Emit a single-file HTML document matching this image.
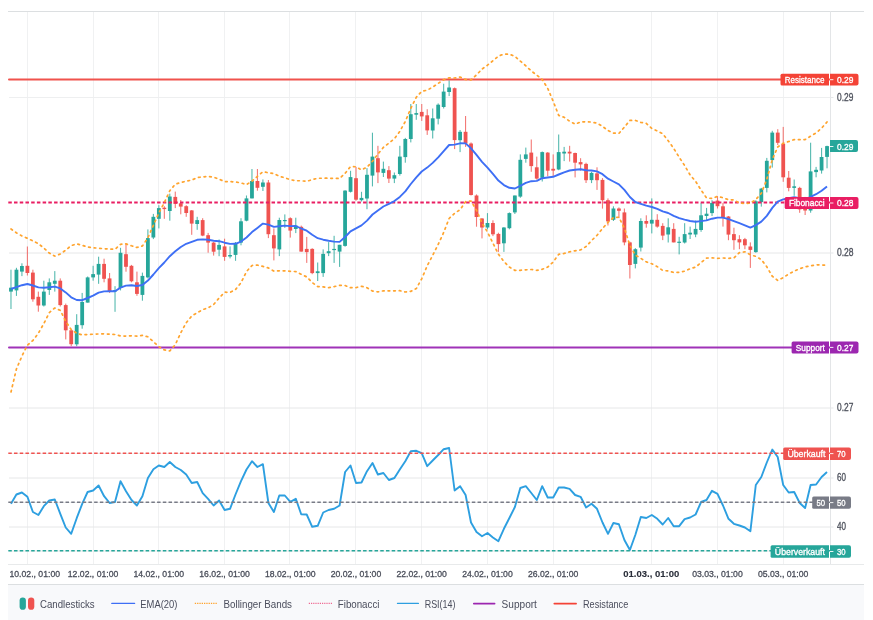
<!DOCTYPE html>
<html><head><meta charset="utf-8"><style>
html,body{margin:0;padding:0;background:#fff;width:873px;height:620px;overflow:hidden;position:relative;font-family:"Liberation Sans",sans-serif}
</style></head><body>
<svg width="873" height="620" viewBox="0 0 873 620" style="position:absolute;left:0;top:0;will-change:transform">
<rect x="8" y="585" width="856" height="35" fill="#f8f9fb"/>
<line x1="27.5" y1="11" x2="27.5" y2="564" stroke="#f0f1f2" stroke-width="1"/>
<line x1="93.5" y1="11" x2="93.5" y2="564" stroke="#f0f1f2" stroke-width="1"/>
<line x1="158.5" y1="11" x2="158.5" y2="564" stroke="#f0f1f2" stroke-width="1"/>
<line x1="224.5" y1="11" x2="224.5" y2="564" stroke="#f0f1f2" stroke-width="1"/>
<line x1="289.5" y1="11" x2="289.5" y2="564" stroke="#f0f1f2" stroke-width="1"/>
<line x1="355.5" y1="11" x2="355.5" y2="564" stroke="#f0f1f2" stroke-width="1"/>
<line x1="421.5" y1="11" x2="421.5" y2="564" stroke="#f0f1f2" stroke-width="1"/>
<line x1="487.5" y1="11" x2="487.5" y2="564" stroke="#f0f1f2" stroke-width="1"/>
<line x1="553.5" y1="11" x2="553.5" y2="564" stroke="#f0f1f2" stroke-width="1"/>
<line x1="651.5" y1="11" x2="651.5" y2="564" stroke="#f0f1f2" stroke-width="1"/>
<line x1="717.5" y1="11" x2="717.5" y2="564" stroke="#f0f1f2" stroke-width="1"/>
<line x1="783.5" y1="11" x2="783.5" y2="564" stroke="#f0f1f2" stroke-width="1"/>
<line x1="9" y1="97.5" x2="830" y2="97.5" stroke="#eeeff0" stroke-width="1"/>
<line x1="9" y1="253.0" x2="830" y2="253.0" stroke="#e6e7e8" stroke-width="1"/>
<line x1="9" y1="408.0" x2="830" y2="408.0" stroke="#e6e7e8" stroke-width="1"/>
<line x1="9" y1="453.5" x2="830" y2="453.5" stroke="#eeeff0" stroke-width="1"/>
<line x1="9" y1="478.0" x2="830" y2="478.0" stroke="#e6e7e8" stroke-width="1"/>
<line x1="9" y1="502.5" x2="830" y2="502.5" stroke="#eeeff0" stroke-width="1"/>
<line x1="9" y1="527.0" x2="830" y2="527.0" stroke="#e6e7e8" stroke-width="1"/>
<line x1="9" y1="551.0" x2="830" y2="551.0" stroke="#e6e7e8" stroke-width="1"/>
<line x1="8" y1="11.5" x2="864" y2="11.5" stroke="#dcdfe1" stroke-width="1"/>
<line x1="830.5" y1="11" x2="830.5" y2="564" stroke="#e3e5e7" stroke-width="1"/>
<line x1="8" y1="564.5" x2="864" y2="564.5" stroke="#e8eaeb" stroke-width="1"/>
<line x1="8" y1="584.5" x2="864" y2="584.5" stroke="#dcdfe1" stroke-width="1"/>
<defs><clipPath id="pane"><rect x="8" y="12" width="822" height="552"/></clipPath></defs>
<g clip-path="url(#pane)">
<rect x="10.42" y="269.7" width="1.1" height="39.3" fill="#26a69a" opacity="0.78"/>
<rect x="9.07" y="287.7" width="3.8" height="3.9" fill="#26a69a"/>
<rect x="15.90" y="267.8" width="1.1" height="28.1" fill="#26a69a" opacity="0.78"/>
<rect x="14.55" y="269.7" width="3.8" height="20.7" fill="#26a69a"/>
<rect x="21.37" y="263.3" width="1.1" height="12.8" fill="#26a69a" opacity="0.78"/>
<rect x="20.02" y="266.0" width="3.8" height="5.6" fill="#26a69a"/>
<rect x="26.85" y="246.5" width="1.1" height="29.0" fill="#ef5350" opacity="0.78"/>
<rect x="25.50" y="265.8" width="3.8" height="7.2" fill="#ef5350"/>
<rect x="32.33" y="269.7" width="1.1" height="32.0" fill="#ef5350" opacity="0.78"/>
<rect x="30.98" y="272.6" width="3.8" height="26.7" fill="#ef5350"/>
<rect x="37.80" y="291.6" width="1.1" height="20.1" fill="#ef5350" opacity="0.78"/>
<rect x="36.45" y="296.8" width="3.8" height="8.7" fill="#ef5350"/>
<rect x="43.28" y="280.7" width="1.1" height="25.8" fill="#26a69a" opacity="0.78"/>
<rect x="41.93" y="291.6" width="3.8" height="13.9" fill="#26a69a"/>
<rect x="48.76" y="278.4" width="1.1" height="16.5" fill="#26a69a" opacity="0.78"/>
<rect x="47.41" y="282.3" width="3.8" height="7.7" fill="#26a69a"/>
<rect x="54.23" y="271.1" width="1.1" height="20.5" fill="#26a69a" opacity="0.78"/>
<rect x="52.88" y="280.7" width="3.8" height="3.1" fill="#26a69a"/>
<rect x="59.71" y="278.4" width="1.1" height="28.1" fill="#ef5350" opacity="0.78"/>
<rect x="58.36" y="280.7" width="3.8" height="24.4" fill="#ef5350"/>
<rect x="65.19" y="303.6" width="1.1" height="35.8" fill="#ef5350" opacity="0.78"/>
<rect x="63.84" y="305.1" width="3.8" height="25.2" fill="#ef5350"/>
<rect x="70.67" y="329.7" width="1.1" height="16.5" fill="#ef5350" opacity="0.78"/>
<rect x="69.32" y="330.3" width="3.8" height="13.9" fill="#ef5350"/>
<rect x="76.14" y="314.2" width="1.1" height="32.0" fill="#26a69a" opacity="0.78"/>
<rect x="74.79" y="324.9" width="3.8" height="19.4" fill="#26a69a"/>
<rect x="81.62" y="292.9" width="1.1" height="35.8" fill="#26a69a" opacity="0.78"/>
<rect x="80.27" y="302.0" width="3.8" height="23.2" fill="#26a69a"/>
<rect x="87.10" y="276.5" width="1.1" height="26.1" fill="#26a69a" opacity="0.78"/>
<rect x="85.75" y="277.4" width="3.8" height="25.2" fill="#26a69a"/>
<rect x="92.57" y="265.8" width="1.1" height="14.9" fill="#26a69a" opacity="0.78"/>
<rect x="91.22" y="274.1" width="3.8" height="3.3" fill="#26a69a"/>
<rect x="98.05" y="256.7" width="1.1" height="27.1" fill="#26a69a" opacity="0.78"/>
<rect x="96.70" y="263.9" width="3.8" height="10.7" fill="#26a69a"/>
<rect x="103.53" y="258.7" width="1.1" height="23.6" fill="#ef5350" opacity="0.78"/>
<rect x="102.18" y="263.9" width="3.8" height="14.9" fill="#ef5350"/>
<rect x="109.01" y="273.0" width="1.1" height="19.9" fill="#ef5350" opacity="0.78"/>
<rect x="107.66" y="278.4" width="3.8" height="12.6" fill="#ef5350"/>
<rect x="114.48" y="286.2" width="1.1" height="25.6" fill="#26a69a" opacity="0.78"/>
<rect x="113.13" y="290.0" width="3.8" height="1.5" fill="#26a69a"/>
<rect x="119.96" y="247.8" width="1.1" height="42.6" fill="#26a69a" opacity="0.78"/>
<rect x="118.61" y="252.8" width="3.8" height="35.2" fill="#26a69a"/>
<rect x="125.44" y="243.6" width="1.1" height="28.1" fill="#ef5350" opacity="0.78"/>
<rect x="124.09" y="254.2" width="3.8" height="12.6" fill="#ef5350"/>
<rect x="130.91" y="264.9" width="1.1" height="17.4" fill="#ef5350" opacity="0.78"/>
<rect x="129.56" y="265.8" width="3.8" height="15.5" fill="#ef5350"/>
<rect x="136.39" y="271.6" width="1.1" height="24.2" fill="#ef5350" opacity="0.78"/>
<rect x="135.04" y="282.3" width="3.8" height="11.6" fill="#ef5350"/>
<rect x="141.87" y="272.6" width="1.1" height="28.1" fill="#26a69a" opacity="0.78"/>
<rect x="140.52" y="275.9" width="3.8" height="19.0" fill="#26a69a"/>
<rect x="147.34" y="229.4" width="1.1" height="49.0" fill="#26a69a" opacity="0.78"/>
<rect x="145.99" y="238.1" width="3.8" height="39.3" fill="#26a69a"/>
<rect x="152.82" y="213.9" width="1.1" height="25.2" fill="#26a69a" opacity="0.78"/>
<rect x="151.47" y="216.8" width="3.8" height="20.7" fill="#26a69a"/>
<rect x="158.30" y="205.2" width="1.1" height="23.2" fill="#26a69a" opacity="0.78"/>
<rect x="156.95" y="208.1" width="3.8" height="10.7" fill="#26a69a"/>
<rect x="163.78" y="206.2" width="1.1" height="12.6" fill="#ef5350" opacity="0.78"/>
<rect x="162.43" y="207.7" width="3.8" height="1.4" fill="#ef5350"/>
<rect x="169.25" y="193.6" width="1.1" height="27.1" fill="#26a69a" opacity="0.78"/>
<rect x="167.90" y="196.5" width="3.8" height="14.5" fill="#26a69a"/>
<rect x="174.73" y="191.6" width="1.1" height="16.5" fill="#ef5350" opacity="0.78"/>
<rect x="173.38" y="196.9" width="3.8" height="7.0" fill="#ef5350"/>
<rect x="180.21" y="200.0" width="1.1" height="14.3" fill="#ef5350" opacity="0.78"/>
<rect x="178.86" y="203.3" width="3.8" height="3.3" fill="#ef5350"/>
<rect x="185.68" y="205.2" width="1.1" height="11.6" fill="#ef5350" opacity="0.78"/>
<rect x="184.33" y="206.2" width="3.8" height="6.8" fill="#ef5350"/>
<rect x="191.16" y="210.0" width="1.1" height="24.8" fill="#ef5350" opacity="0.78"/>
<rect x="189.81" y="210.4" width="3.8" height="13.2" fill="#ef5350"/>
<rect x="196.64" y="216.8" width="1.1" height="13.0" fill="#26a69a" opacity="0.78"/>
<rect x="195.29" y="220.1" width="3.8" height="3.9" fill="#26a69a"/>
<rect x="202.11" y="218.2" width="1.1" height="18.0" fill="#ef5350" opacity="0.78"/>
<rect x="200.76" y="220.1" width="3.8" height="15.5" fill="#ef5350"/>
<rect x="207.59" y="232.9" width="1.1" height="19.8" fill="#ef5350" opacity="0.78"/>
<rect x="206.24" y="235.2" width="3.8" height="7.4" fill="#ef5350"/>
<rect x="213.07" y="242.0" width="1.1" height="13.6" fill="#ef5350" opacity="0.78"/>
<rect x="211.72" y="242.6" width="3.8" height="9.1" fill="#ef5350"/>
<rect x="218.55" y="239.5" width="1.1" height="16.7" fill="#26a69a" opacity="0.78"/>
<rect x="217.20" y="244.9" width="3.8" height="4.8" fill="#26a69a"/>
<rect x="224.02" y="238.7" width="1.1" height="22.1" fill="#ef5350" opacity="0.78"/>
<rect x="222.67" y="246.4" width="3.8" height="10.5" fill="#ef5350"/>
<rect x="229.50" y="246.4" width="1.1" height="12.0" fill="#26a69a" opacity="0.78"/>
<rect x="228.15" y="255.0" width="3.8" height="1.5" fill="#26a69a"/>
<rect x="234.98" y="242.0" width="1.1" height="18.8" fill="#26a69a" opacity="0.78"/>
<rect x="233.63" y="242.9" width="3.8" height="12.0" fill="#26a69a"/>
<rect x="240.45" y="218.2" width="1.1" height="27.1" fill="#26a69a" opacity="0.78"/>
<rect x="239.10" y="221.3" width="3.8" height="21.3" fill="#26a69a"/>
<rect x="245.93" y="195.5" width="1.1" height="25.8" fill="#26a69a" opacity="0.78"/>
<rect x="244.58" y="198.4" width="3.8" height="22.3" fill="#26a69a"/>
<rect x="251.41" y="169.0" width="1.1" height="29.4" fill="#26a69a" opacity="0.78"/>
<rect x="250.06" y="181.0" width="3.8" height="17.4" fill="#26a69a"/>
<rect x="256.88" y="169.0" width="1.1" height="21.7" fill="#ef5350" opacity="0.78"/>
<rect x="255.53" y="181.0" width="3.8" height="6.8" fill="#ef5350"/>
<rect x="262.36" y="179.4" width="1.1" height="11.6" fill="#26a69a" opacity="0.78"/>
<rect x="261.01" y="182.5" width="3.8" height="4.3" fill="#26a69a"/>
<rect x="267.84" y="180.0" width="1.1" height="58.1" fill="#ef5350" opacity="0.78"/>
<rect x="266.49" y="182.5" width="3.8" height="51.7" fill="#ef5350"/>
<rect x="273.31" y="228.4" width="1.1" height="32.0" fill="#ef5350" opacity="0.78"/>
<rect x="271.97" y="235.2" width="3.8" height="13.2" fill="#ef5350"/>
<rect x="278.79" y="217.7" width="1.1" height="38.4" fill="#26a69a" opacity="0.78"/>
<rect x="277.44" y="220.0" width="3.8" height="29.4" fill="#26a69a"/>
<rect x="284.27" y="214.4" width="1.1" height="13.5" fill="#26a69a" opacity="0.78"/>
<rect x="282.92" y="220.0" width="3.8" height="1.2" fill="#26a69a"/>
<rect x="289.75" y="217.3" width="1.1" height="20.3" fill="#ef5350" opacity="0.78"/>
<rect x="288.40" y="218.2" width="3.8" height="12.4" fill="#ef5350"/>
<rect x="295.22" y="217.7" width="1.1" height="15.4" fill="#26a69a" opacity="0.78"/>
<rect x="293.87" y="225.6" width="3.8" height="3.4" fill="#26a69a"/>
<rect x="300.70" y="225.6" width="1.1" height="26.0" fill="#ef5350" opacity="0.78"/>
<rect x="299.35" y="226.8" width="3.8" height="24.8" fill="#ef5350"/>
<rect x="306.18" y="236.9" width="1.1" height="26.0" fill="#ef5350" opacity="0.78"/>
<rect x="304.83" y="248.9" width="3.8" height="3.2" fill="#ef5350"/>
<rect x="311.65" y="248.2" width="1.1" height="26.0" fill="#ef5350" opacity="0.78"/>
<rect x="310.30" y="248.9" width="3.8" height="24.2" fill="#ef5350"/>
<rect x="317.13" y="262.5" width="1.1" height="18.5" fill="#26a69a" opacity="0.78"/>
<rect x="315.78" y="271.3" width="3.8" height="1.8" fill="#26a69a"/>
<rect x="322.61" y="249.4" width="1.1" height="27.5" fill="#26a69a" opacity="0.78"/>
<rect x="321.26" y="253.9" width="3.8" height="19.2" fill="#26a69a"/>
<rect x="328.08" y="242.1" width="1.1" height="14.0" fill="#26a69a" opacity="0.78"/>
<rect x="326.74" y="251.2" width="3.8" height="2.0" fill="#26a69a"/>
<rect x="333.56" y="235.8" width="1.1" height="27.1" fill="#26a69a" opacity="0.78"/>
<rect x="332.21" y="248.9" width="3.8" height="1.2" fill="#26a69a"/>
<rect x="339.04" y="244.8" width="1.1" height="22.1" fill="#26a69a" opacity="0.78"/>
<rect x="337.69" y="244.8" width="3.8" height="6.8" fill="#26a69a"/>
<rect x="344.52" y="190.2" width="1.1" height="56.5" fill="#26a69a" opacity="0.78"/>
<rect x="343.17" y="190.6" width="3.8" height="55.3" fill="#26a69a"/>
<rect x="349.99" y="170.8" width="1.1" height="21.7" fill="#26a69a" opacity="0.78"/>
<rect x="348.64" y="177.1" width="3.8" height="14.7" fill="#26a69a"/>
<rect x="355.47" y="166.9" width="1.1" height="33.9" fill="#ef5350" opacity="0.78"/>
<rect x="354.12" y="178.2" width="3.8" height="21.5" fill="#ef5350"/>
<rect x="360.95" y="191.8" width="1.1" height="9.7" fill="#26a69a" opacity="0.78"/>
<rect x="359.60" y="197.9" width="3.8" height="2.3" fill="#26a69a"/>
<rect x="366.42" y="168.1" width="1.1" height="41.1" fill="#26a69a" opacity="0.78"/>
<rect x="365.07" y="174.8" width="3.8" height="23.7" fill="#26a69a"/>
<rect x="371.90" y="132.7" width="1.1" height="53.7" fill="#26a69a" opacity="0.78"/>
<rect x="370.55" y="156.6" width="3.8" height="19.0" fill="#26a69a"/>
<rect x="377.38" y="145.8" width="1.1" height="37.3" fill="#ef5350" opacity="0.78"/>
<rect x="376.03" y="158.2" width="3.8" height="14.2" fill="#ef5350"/>
<rect x="382.85" y="161.6" width="1.1" height="15.4" fill="#26a69a" opacity="0.78"/>
<rect x="381.50" y="168.8" width="3.8" height="4.1" fill="#26a69a"/>
<rect x="388.33" y="166.1" width="1.1" height="16.9" fill="#ef5350" opacity="0.78"/>
<rect x="386.98" y="170.2" width="3.8" height="8.4" fill="#ef5350"/>
<rect x="393.81" y="172.5" width="1.1" height="10.6" fill="#26a69a" opacity="0.78"/>
<rect x="392.46" y="175.2" width="3.8" height="3.4" fill="#26a69a"/>
<rect x="399.29" y="145.8" width="1.1" height="29.8" fill="#26a69a" opacity="0.78"/>
<rect x="397.94" y="156.6" width="3.8" height="17.4" fill="#26a69a"/>
<rect x="404.76" y="137.9" width="1.1" height="24.8" fill="#26a69a" opacity="0.78"/>
<rect x="403.41" y="139.0" width="3.8" height="18.1" fill="#26a69a"/>
<rect x="410.24" y="104.0" width="1.1" height="38.4" fill="#26a69a" opacity="0.78"/>
<rect x="408.89" y="114.2" width="3.8" height="24.8" fill="#26a69a"/>
<rect x="415.72" y="104.0" width="1.1" height="15.8" fill="#26a69a" opacity="0.78"/>
<rect x="414.37" y="113.1" width="3.8" height="1.6" fill="#26a69a"/>
<rect x="421.19" y="104.0" width="1.1" height="16.9" fill="#ef5350" opacity="0.78"/>
<rect x="419.84" y="111.9" width="3.8" height="4.5" fill="#ef5350"/>
<rect x="426.67" y="109.2" width="1.1" height="25.7" fill="#ef5350" opacity="0.78"/>
<rect x="425.32" y="115.3" width="3.8" height="15.1" fill="#ef5350"/>
<rect x="432.15" y="108.5" width="1.1" height="30.0" fill="#26a69a" opacity="0.78"/>
<rect x="430.80" y="118.3" width="3.8" height="12.2" fill="#26a69a"/>
<rect x="437.62" y="103.4" width="1.1" height="21.0" fill="#26a69a" opacity="0.78"/>
<rect x="436.28" y="104.7" width="3.8" height="14.0" fill="#26a69a"/>
<rect x="443.10" y="83.7" width="1.1" height="24.8" fill="#26a69a" opacity="0.78"/>
<rect x="441.75" y="91.6" width="3.8" height="15.4" fill="#26a69a"/>
<rect x="448.58" y="80.3" width="1.1" height="15.8" fill="#26a69a" opacity="0.78"/>
<rect x="447.23" y="87.5" width="3.8" height="4.5" fill="#26a69a"/>
<rect x="454.06" y="87.5" width="1.1" height="61.6" fill="#ef5350" opacity="0.78"/>
<rect x="452.71" y="88.2" width="3.8" height="51.9" fill="#ef5350"/>
<rect x="459.53" y="130.0" width="1.1" height="22.1" fill="#26a69a" opacity="0.78"/>
<rect x="458.18" y="131.8" width="3.8" height="8.4" fill="#26a69a"/>
<rect x="465.01" y="116.0" width="1.1" height="30.9" fill="#ef5350" opacity="0.78"/>
<rect x="463.66" y="131.8" width="3.8" height="11.7" fill="#ef5350"/>
<rect x="470.49" y="142.4" width="1.1" height="53.1" fill="#ef5350" opacity="0.78"/>
<rect x="469.14" y="143.5" width="3.8" height="51.5" fill="#ef5350"/>
<rect x="475.96" y="194.4" width="1.1" height="32.3" fill="#ef5350" opacity="0.78"/>
<rect x="474.61" y="195.5" width="3.8" height="21.5" fill="#ef5350"/>
<rect x="481.44" y="218.1" width="1.1" height="20.3" fill="#ef5350" opacity="0.78"/>
<rect x="480.09" y="218.5" width="3.8" height="9.0" fill="#ef5350"/>
<rect x="486.92" y="213.1" width="1.1" height="16.3" fill="#26a69a" opacity="0.78"/>
<rect x="485.57" y="223.0" width="3.8" height="4.5" fill="#26a69a"/>
<rect x="492.39" y="220.3" width="1.1" height="15.8" fill="#ef5350" opacity="0.78"/>
<rect x="491.05" y="223.0" width="3.8" height="11.3" fill="#ef5350"/>
<rect x="497.87" y="232.7" width="1.1" height="19.2" fill="#ef5350" opacity="0.78"/>
<rect x="496.52" y="233.9" width="3.8" height="10.2" fill="#ef5350"/>
<rect x="503.35" y="227.1" width="1.1" height="24.8" fill="#26a69a" opacity="0.78"/>
<rect x="502.00" y="227.5" width="3.8" height="15.8" fill="#26a69a"/>
<rect x="508.83" y="212.4" width="1.1" height="16.9" fill="#26a69a" opacity="0.78"/>
<rect x="507.48" y="213.1" width="3.8" height="15.1" fill="#26a69a"/>
<rect x="514.30" y="195.5" width="1.1" height="18.5" fill="#26a69a" opacity="0.78"/>
<rect x="512.95" y="195.5" width="3.8" height="16.9" fill="#26a69a"/>
<rect x="519.78" y="154.4" width="1.1" height="43.4" fill="#26a69a" opacity="0.78"/>
<rect x="518.43" y="159.8" width="3.8" height="36.8" fill="#26a69a"/>
<rect x="525.26" y="147.6" width="1.1" height="15.1" fill="#26a69a" opacity="0.78"/>
<rect x="523.91" y="154.4" width="3.8" height="4.5" fill="#26a69a"/>
<rect x="530.73" y="139.5" width="1.1" height="32.3" fill="#ef5350" opacity="0.78"/>
<rect x="529.38" y="152.6" width="3.8" height="13.5" fill="#ef5350"/>
<rect x="536.21" y="156.6" width="1.1" height="23.0" fill="#ef5350" opacity="0.78"/>
<rect x="534.86" y="167.3" width="3.8" height="11.3" fill="#ef5350"/>
<rect x="541.69" y="151.5" width="1.1" height="30.0" fill="#26a69a" opacity="0.78"/>
<rect x="540.34" y="152.1" width="3.8" height="25.7" fill="#26a69a"/>
<rect x="547.17" y="152.1" width="1.1" height="24.2" fill="#ef5350" opacity="0.78"/>
<rect x="545.82" y="152.6" width="3.8" height="18.1" fill="#ef5350"/>
<rect x="552.64" y="154.4" width="1.1" height="22.6" fill="#ef5350" opacity="0.78"/>
<rect x="551.29" y="168.8" width="3.8" height="1.8" fill="#ef5350"/>
<rect x="558.12" y="134.5" width="1.1" height="35.7" fill="#26a69a" opacity="0.78"/>
<rect x="556.77" y="152.1" width="3.8" height="17.4" fill="#26a69a"/>
<rect x="563.60" y="146.9" width="1.1" height="14.2" fill="#26a69a" opacity="0.78"/>
<rect x="562.25" y="151.7" width="3.8" height="1.8" fill="#26a69a"/>
<rect x="569.07" y="145.8" width="1.1" height="15.8" fill="#ef5350" opacity="0.78"/>
<rect x="567.72" y="151.7" width="3.8" height="1.8" fill="#ef5350"/>
<rect x="574.55" y="152.6" width="1.1" height="24.8" fill="#ef5350" opacity="0.78"/>
<rect x="573.20" y="153.0" width="3.8" height="9.7" fill="#ef5350"/>
<rect x="580.03" y="158.2" width="1.1" height="12.4" fill="#ef5350" opacity="0.78"/>
<rect x="578.68" y="162.1" width="3.8" height="2.3" fill="#ef5350"/>
<rect x="585.50" y="162.7" width="1.1" height="20.3" fill="#ef5350" opacity="0.78"/>
<rect x="584.15" y="163.9" width="3.8" height="16.3" fill="#ef5350"/>
<rect x="590.98" y="171.8" width="1.1" height="11.3" fill="#26a69a" opacity="0.78"/>
<rect x="589.63" y="172.9" width="3.8" height="7.2" fill="#26a69a"/>
<rect x="596.46" y="167.3" width="1.1" height="22.6" fill="#ef5350" opacity="0.78"/>
<rect x="595.11" y="173.4" width="3.8" height="6.8" fill="#ef5350"/>
<rect x="601.94" y="178.1" width="1.1" height="30.5" fill="#ef5350" opacity="0.78"/>
<rect x="600.59" y="179.9" width="3.8" height="20.3" fill="#ef5350"/>
<rect x="607.41" y="198.4" width="1.1" height="27.1" fill="#ef5350" opacity="0.78"/>
<rect x="606.06" y="200.2" width="3.8" height="21.2" fill="#ef5350"/>
<rect x="612.89" y="206.3" width="1.1" height="14.7" fill="#26a69a" opacity="0.78"/>
<rect x="611.54" y="208.5" width="3.8" height="11.3" fill="#26a69a"/>
<rect x="618.37" y="207.4" width="1.1" height="10.8" fill="#ef5350" opacity="0.78"/>
<rect x="617.02" y="208.5" width="3.8" height="2.3" fill="#ef5350"/>
<rect x="623.84" y="208.5" width="1.1" height="36.8" fill="#ef5350" opacity="0.78"/>
<rect x="622.49" y="212.4" width="3.8" height="30.0" fill="#ef5350"/>
<rect x="629.32" y="241.7" width="1.1" height="36.8" fill="#ef5350" opacity="0.78"/>
<rect x="627.97" y="242.4" width="3.8" height="22.6" fill="#ef5350"/>
<rect x="634.80" y="248.1" width="1.1" height="20.3" fill="#26a69a" opacity="0.78"/>
<rect x="633.45" y="249.2" width="3.8" height="14.7" fill="#26a69a"/>
<rect x="640.27" y="218.3" width="1.1" height="33.2" fill="#26a69a" opacity="0.78"/>
<rect x="638.92" y="221.0" width="3.8" height="26.6" fill="#26a69a"/>
<rect x="645.75" y="215.3" width="1.1" height="12.4" fill="#ef5350" opacity="0.78"/>
<rect x="644.40" y="221.0" width="3.8" height="2.7" fill="#ef5350"/>
<rect x="651.23" y="198.4" width="1.1" height="35.0" fill="#26a69a" opacity="0.78"/>
<rect x="649.88" y="219.8" width="3.8" height="3.8" fill="#26a69a"/>
<rect x="656.71" y="214.2" width="1.1" height="13.5" fill="#ef5350" opacity="0.78"/>
<rect x="655.36" y="219.8" width="3.8" height="6.8" fill="#ef5350"/>
<rect x="662.18" y="223.2" width="1.1" height="16.9" fill="#ef5350" opacity="0.78"/>
<rect x="660.83" y="225.9" width="3.8" height="9.7" fill="#ef5350"/>
<rect x="667.66" y="218.3" width="1.1" height="24.2" fill="#26a69a" opacity="0.78"/>
<rect x="666.31" y="227.3" width="3.8" height="7.2" fill="#26a69a"/>
<rect x="673.14" y="223.2" width="1.1" height="19.2" fill="#ef5350" opacity="0.78"/>
<rect x="671.79" y="228.9" width="3.8" height="13.5" fill="#ef5350"/>
<rect x="678.61" y="236.8" width="1.1" height="17.6" fill="#26a69a" opacity="0.78"/>
<rect x="677.26" y="241.7" width="3.8" height="1.2" fill="#26a69a"/>
<rect x="684.09" y="223.2" width="1.1" height="20.3" fill="#26a69a" opacity="0.78"/>
<rect x="682.74" y="234.1" width="3.8" height="8.4" fill="#26a69a"/>
<rect x="689.57" y="226.6" width="1.1" height="12.4" fill="#26a69a" opacity="0.78"/>
<rect x="688.22" y="232.7" width="3.8" height="1.8" fill="#26a69a"/>
<rect x="695.04" y="220.5" width="1.1" height="16.7" fill="#26a69a" opacity="0.78"/>
<rect x="693.69" y="228.9" width="3.8" height="5.6" fill="#26a69a"/>
<rect x="700.52" y="202.9" width="1.1" height="28.9" fill="#26a69a" opacity="0.78"/>
<rect x="699.17" y="215.3" width="3.8" height="14.7" fill="#26a69a"/>
<rect x="706.00" y="207.9" width="1.1" height="13.1" fill="#26a69a" opacity="0.78"/>
<rect x="704.65" y="213.7" width="3.8" height="2.3" fill="#26a69a"/>
<rect x="711.48" y="200.2" width="1.1" height="15.8" fill="#26a69a" opacity="0.78"/>
<rect x="710.12" y="202.9" width="3.8" height="10.2" fill="#26a69a"/>
<rect x="716.95" y="196.1" width="1.1" height="12.4" fill="#ef5350" opacity="0.78"/>
<rect x="715.60" y="200.6" width="3.8" height="5.6" fill="#ef5350"/>
<rect x="722.43" y="202.9" width="1.1" height="23.7" fill="#ef5350" opacity="0.78"/>
<rect x="721.08" y="206.3" width="3.8" height="11.3" fill="#ef5350"/>
<rect x="727.91" y="216.0" width="1.1" height="24.2" fill="#ef5350" opacity="0.78"/>
<rect x="726.56" y="216.5" width="3.8" height="18.1" fill="#ef5350"/>
<rect x="733.38" y="227.7" width="1.1" height="22.1" fill="#ef5350" opacity="0.78"/>
<rect x="732.03" y="234.1" width="3.8" height="6.1" fill="#ef5350"/>
<rect x="738.86" y="235.2" width="1.1" height="14.0" fill="#ef5350" opacity="0.78"/>
<rect x="737.51" y="239.2" width="3.8" height="3.2" fill="#ef5350"/>
<rect x="744.34" y="237.9" width="1.1" height="11.3" fill="#ef5350" opacity="0.78"/>
<rect x="742.99" y="239.2" width="3.8" height="6.1" fill="#ef5350"/>
<rect x="749.81" y="242.4" width="1.1" height="25.5" fill="#ef5350" opacity="0.78"/>
<rect x="748.46" y="246.5" width="3.8" height="3.4" fill="#ef5350"/>
<rect x="755.29" y="200.2" width="1.1" height="52.6" fill="#26a69a" opacity="0.78"/>
<rect x="753.94" y="201.3" width="3.8" height="50.8" fill="#26a69a"/>
<rect x="760.77" y="187.9" width="1.1" height="18.7" fill="#26a69a" opacity="0.78"/>
<rect x="759.42" y="188.6" width="3.8" height="13.5" fill="#26a69a"/>
<rect x="766.25" y="157.9" width="1.1" height="34.5" fill="#26a69a" opacity="0.78"/>
<rect x="764.90" y="160.8" width="3.8" height="27.1" fill="#26a69a"/>
<rect x="771.72" y="130.8" width="1.1" height="36.8" fill="#26a69a" opacity="0.78"/>
<rect x="770.37" y="132.6" width="3.8" height="27.5" fill="#26a69a"/>
<rect x="777.20" y="129.2" width="1.1" height="15.8" fill="#ef5350" opacity="0.78"/>
<rect x="775.85" y="132.6" width="3.8" height="10.2" fill="#ef5350"/>
<rect x="782.68" y="126.9" width="1.1" height="54.9" fill="#ef5350" opacity="0.78"/>
<rect x="781.33" y="143.9" width="3.8" height="33.4" fill="#ef5350"/>
<rect x="788.15" y="171.0" width="1.1" height="20.3" fill="#ef5350" opacity="0.78"/>
<rect x="786.80" y="177.7" width="3.8" height="10.2" fill="#ef5350"/>
<rect x="793.63" y="179.5" width="1.1" height="16.3" fill="#26a69a" opacity="0.78"/>
<rect x="792.28" y="186.3" width="3.8" height="1.6" fill="#26a69a"/>
<rect x="799.11" y="186.8" width="1.1" height="26.0" fill="#ef5350" opacity="0.78"/>
<rect x="797.76" y="187.9" width="3.8" height="21.5" fill="#ef5350"/>
<rect x="804.58" y="196.9" width="1.1" height="18.1" fill="#ef5350" opacity="0.78"/>
<rect x="803.23" y="207.1" width="3.8" height="3.4" fill="#ef5350"/>
<rect x="810.06" y="142.7" width="1.1" height="70.0" fill="#26a69a" opacity="0.78"/>
<rect x="808.71" y="171.4" width="3.8" height="39.1" fill="#26a69a"/>
<rect x="815.54" y="166.9" width="1.1" height="10.4" fill="#26a69a" opacity="0.78"/>
<rect x="814.19" y="169.8" width="3.8" height="2.3" fill="#26a69a"/>
<rect x="821.02" y="147.9" width="1.1" height="25.7" fill="#26a69a" opacity="0.78"/>
<rect x="819.67" y="157.0" width="3.8" height="13.5" fill="#26a69a"/>
<rect x="826.49" y="145.7" width="1.1" height="22.6" fill="#26a69a" opacity="0.78"/>
<rect x="825.14" y="146.1" width="3.8" height="10.8" fill="#26a69a"/>
<line x1="9" y1="79.4" x2="830" y2="79.4" stroke="#f0524d" stroke-width="2" stroke-linecap="round"/>
<line x1="9" y1="347.4" x2="830" y2="347.4" stroke="#a032b8" stroke-width="2" stroke-linecap="round"/>
<line x1="8" y1="202.5" x2="830" y2="202.5" stroke="#e91e63" stroke-width="2" stroke-dasharray="3.5 2.2225" stroke-dashoffset="-0.29"/>
<path d="M11.0 229.0 L16.4 232.8 L21.9 235.9 L27.4 238.3 L32.9 240.9 L38.4 243.7 L43.8 248.0 L49.3 253.1 L54.8 256.1 L60.3 254.0 L65.7 250.2 L71.2 245.6 L76.7 243.9 L82.2 245.3 L87.6 247.0 L93.1 247.7 L98.6 248.3 L104.1 248.7 L109.6 249.1 L115.0 249.3 L120.5 244.3 L126.0 243.9 L131.5 245.8 L136.9 247.5 L142.4 246.0 L147.9 237.7 L153.4 225.3 L158.8 213.0 L164.3 202.6 L169.8 190.7 L175.3 184.2 L180.8 182.5 L186.2 181.2 L191.7 180.1 L197.2 177.6 L202.7 176.9 L208.1 176.5 L213.6 177.2 L219.1 179.1 L224.6 181.6 L230.0 181.6 L235.5 182.0 L241.0 182.9 L246.5 184.6 L252.0 181.1 L257.4 176.4 L262.9 171.7 L268.4 172.8 L273.9 173.6 L279.3 176.2 L284.8 177.8 L290.3 179.7 L295.8 180.7 L301.2 180.8 L306.7 181.4 L312.2 179.6 L317.7 178.3 L323.2 178.2 L328.6 178.2 L334.1 178.4 L339.6 178.5 L345.1 173.3 L350.5 166.6 L356.0 166.8 L361.5 169.9 L367.0 167.2 L372.5 161.2 L377.9 154.1 L383.4 147.4 L388.9 143.1 L394.4 138.7 L399.8 131.4 L405.3 121.5 L410.8 108.3 L416.3 97.2 L421.7 91.3 L427.2 90.2 L432.7 87.1 L438.2 83.4 L443.7 79.7 L449.1 77.9 L454.6 78.0 L460.1 77.1 L465.6 79.5 L471.0 79.9 L476.5 74.9 L482.0 69.1 L487.5 65.2 L492.9 60.8 L498.4 56.1 L503.9 54.1 L509.4 54.2 L514.9 56.4 L520.3 61.1 L525.8 65.8 L531.3 71.0 L536.8 75.1 L542.2 79.5 L547.7 88.3 L553.2 101.3 L558.7 115.4 L564.1 117.3 L569.6 121.2 L575.1 124.2 L580.6 122.0 L586.1 121.7 L591.5 122.1 L597.0 123.1 L602.5 126.4 L608.0 130.5 L613.4 133.1 L618.9 133.4 L624.4 127.1 L629.9 120.4 L635.3 120.4 L640.8 122.4 L646.3 123.4 L651.8 128.4 L657.3 131.0 L662.7 133.7 L668.2 140.7 L673.7 148.4 L679.2 157.3 L684.6 165.5 L690.1 174.9 L695.6 181.3 L701.1 190.1 L706.5 197.9 L712.0 198.5 L717.5 196.4 L723.0 197.7 L728.5 199.8 L733.9 199.9 L739.4 203.0 L744.9 203.4 L750.4 203.2 L755.8 199.5 L761.3 193.3 L766.8 179.3 L772.3 159.5 L777.7 147.0 L783.2 143.3 L788.7 141.5 L794.2 139.6 L799.7 139.6 L805.1 139.6 L810.6 136.2 L816.1 132.9 L821.6 128.2 L827.0 122.0" fill="none" stroke="#ffa42e" stroke-width="1.7" stroke-dasharray="1.7 3.9" stroke-linecap="round" stroke-linejoin="round"/>
<path d="M11.0 392.0 L16.4 369.0 L21.9 356.2 L27.4 345.2 L32.9 340.5 L38.4 333.2 L43.8 323.6 L49.3 312.6 L54.8 308.0 L60.3 310.4 L65.7 321.4 L71.2 329.5 L76.7 333.3 L82.2 334.9 L87.6 334.5 L93.1 334.2 L98.6 334.0 L104.1 333.8 L109.6 334.2 L115.0 334.5 L120.5 336.0 L126.0 336.1 L131.5 335.8 L136.9 336.1 L142.4 335.3 L147.9 336.8 L153.4 341.7 L158.8 346.7 L164.3 349.9 L169.8 350.9 L175.3 344.7 L180.8 332.7 L186.2 322.8 L191.7 316.0 L197.2 312.8 L202.7 309.6 L208.1 307.9 L213.6 304.5 L219.1 298.0 L224.6 292.2 L230.0 292.4 L235.5 289.6 L241.0 282.7 L246.5 271.5 L252.0 265.5 L257.4 265.1 L262.9 266.4 L268.4 267.9 L273.9 271.1 L279.3 270.8 L284.8 270.8 L290.3 271.3 L295.8 271.6 L301.2 274.3 L306.7 276.9 L312.2 282.5 L317.7 286.6 L323.2 286.9 L328.6 287.6 L334.1 286.6 L339.6 285.4 L345.1 285.5 L350.5 287.7 L356.0 287.6 L361.5 286.3 L367.0 287.7 L372.5 291.1 L377.9 291.9 L383.4 290.8 L388.9 290.8 L394.4 290.8 L399.8 290.7 L405.3 292.0 L410.8 291.4 L416.3 288.6 L421.7 278.8 L427.2 265.8 L432.7 255.4 L438.2 244.4 L443.7 232.4 L449.1 218.5 L454.6 213.3 L460.1 209.7 L465.6 201.7 L471.0 201.0 L476.5 210.2 L482.0 223.1 L487.5 232.0 L492.9 243.0 L498.4 254.2 L503.9 261.5 L509.4 267.1 L514.9 270.4 L520.3 270.3 L525.8 269.8 L531.3 269.5 L536.8 270.3 L542.2 269.3 L547.7 267.1 L553.2 262.0 L558.7 254.3 L564.1 253.5 L569.6 251.8 L575.1 250.8 L580.6 249.9 L586.1 246.5 L591.5 240.6 L597.0 235.3 L602.5 228.6 L608.0 222.3 L613.4 217.7 L618.9 217.2 L624.4 228.2 L629.9 245.4 L635.3 255.0 L640.8 258.4 L646.3 261.9 L651.8 263.7 L657.3 266.7 L662.7 270.4 L668.2 271.0 L673.7 272.4 L679.2 272.3 L684.6 271.2 L690.1 268.7 L695.6 267.1 L701.1 262.6 L706.5 258.1 L712.0 257.8 L717.5 258.4 L723.0 258.0 L728.5 258.3 L733.9 258.0 L739.4 252.6 L744.9 251.8 L750.4 254.8 L755.8 256.4 L761.3 259.5 L766.8 266.8 L772.3 276.3 L777.7 280.4 L783.2 277.6 L788.7 274.0 L794.2 271.1 L799.7 268.7 L805.1 266.9 L810.6 265.9 L816.1 264.8 L821.6 265.0 L827.0 265.2" fill="none" stroke="#ffa42e" stroke-width="1.7" stroke-dasharray="1.7 3.9" stroke-linecap="round" stroke-linejoin="round"/>
<path d="M11.0 289.0 L16.4 287.2 L21.9 285.2 L27.4 284.0 L32.9 285.5 L38.4 287.4 L43.8 287.8 L49.3 287.3 L54.8 286.6 L60.3 288.4 L65.7 292.4 L71.2 297.3 L76.7 300.0 L82.2 300.2 L87.6 298.0 L93.1 295.7 L98.6 292.7 L104.1 291.4 L109.6 291.3 L115.0 291.2 L120.5 287.6 L126.0 285.6 L131.5 285.2 L136.9 286.0 L142.4 285.0 L147.9 280.6 L153.4 274.5 L158.8 268.2 L164.3 262.5 L169.8 256.2 L175.3 251.3 L180.8 247.0 L186.2 243.8 L191.7 241.8 L197.2 239.8 L202.7 239.4 L208.1 239.7 L213.6 240.8 L219.1 241.2 L224.6 242.7 L230.0 243.9 L235.5 243.8 L241.0 241.6 L246.5 237.5 L252.0 232.1 L257.4 227.9 L262.9 223.6 L268.4 224.6 L273.9 226.9 L279.3 226.2 L284.8 225.6 L290.3 226.1 L295.8 226.0 L301.2 228.5 L306.7 230.7 L312.2 234.8 L317.7 238.2 L323.2 239.7 L328.6 240.8 L334.1 241.6 L339.6 241.9 L345.1 237.0 L350.5 231.3 L356.0 228.3 L361.5 225.4 L367.0 220.6 L372.5 214.5 L377.9 210.5 L383.4 206.5 L388.9 203.9 L394.4 201.1 L399.8 196.9 L405.3 191.4 L410.8 184.0 L416.3 177.3 L421.7 171.5 L427.2 167.6 L432.7 162.9 L438.2 157.3 L443.7 151.1 L449.1 145.0 L454.6 144.6 L460.1 143.3 L465.6 143.4 L471.0 148.3 L476.5 154.8 L482.0 161.8 L487.5 167.6 L492.9 173.9 L498.4 180.6 L503.9 185.1 L509.4 187.8 L514.9 188.5 L520.3 185.8 L525.8 182.8 L531.3 181.2 L536.8 180.9 L542.2 178.2 L547.7 177.5 L553.2 176.8 L558.7 174.5 L564.1 172.3 L569.6 170.5 L575.1 169.8 L580.6 169.2 L586.1 170.3 L591.5 170.5 L597.0 171.4 L602.5 174.2 L608.0 178.7 L613.4 181.5 L618.9 184.3 L624.4 189.9 L629.9 197.0 L635.3 202.0 L640.8 203.8 L646.3 205.7 L651.8 207.0 L657.3 208.9 L662.7 211.4 L668.2 213.0 L673.7 215.8 L679.2 218.2 L684.6 219.7 L690.1 221.0 L695.6 221.7 L701.1 221.1 L706.5 220.4 L712.0 218.7 L717.5 217.6 L723.0 217.6 L728.5 219.2 L733.9 221.2 L739.4 223.2 L744.9 225.3 L750.4 227.6 L755.8 225.1 L761.3 221.6 L766.8 215.9 L772.3 207.9 L777.7 201.7 L783.2 199.4 L788.7 198.3 L794.2 197.2 L799.7 198.3 L805.1 199.5 L810.6 196.8 L816.1 194.2 L821.6 190.7 L827.0 186.4" fill="none" stroke="#3e6ff5" stroke-width="1.9" stroke-linejoin="round"/>
<path d="M11.0 503.8 L16.4 494.5 L21.9 492.5 L27.4 496.8 L32.9 512.0 L38.4 515.0 L43.8 506.2 L49.3 500.5 L54.8 499.5 L60.3 513.8 L65.7 527.5 L71.2 533.8 L76.7 518.2 L82.2 503.8 L87.6 492.0 L93.1 490.5 L98.6 485.5 L104.1 496.2 L109.6 503.0 L115.0 502.0 L120.5 481.2 L126.0 491.2 L131.5 500.0 L136.9 505.5 L142.4 496.2 L147.9 478.0 L153.4 469.2 L158.8 465.5 L164.3 467.0 L169.8 462.0 L175.3 467.0 L180.8 470.0 L186.2 474.5 L191.7 483.0 L197.2 482.0 L202.7 493.2 L208.1 498.8 L213.6 505.5 L219.1 500.5 L224.6 510.0 L230.0 508.8 L235.5 494.5 L241.0 481.2 L246.5 469.5 L252.0 461.2 L257.4 467.0 L262.9 464.2 L268.4 503.0 L273.9 512.0 L279.3 495.5 L284.8 495.5 L290.3 501.8 L295.8 498.8 L301.2 514.2 L306.7 514.5 L312.2 526.8 L317.7 525.8 L323.2 512.5 L328.6 510.0 L334.1 508.8 L339.6 505.5 L345.1 472.0 L350.5 465.5 L356.0 483.0 L361.5 482.5 L367.0 471.2 L372.5 463.0 L377.9 474.5 L383.4 473.0 L388.9 480.0 L394.4 478.0 L399.8 469.5 L405.3 461.2 L410.8 451.2 L416.3 450.8 L421.7 453.2 L427.2 466.2 L432.7 460.5 L438.2 455.0 L443.7 449.2 L449.1 448.0 L454.6 490.5 L460.1 486.2 L465.6 495.0 L471.0 522.5 L476.5 532.0 L482.0 536.2 L487.5 533.0 L492.9 537.5 L498.4 541.2 L503.9 528.8 L509.4 518.0 L514.9 507.0 L520.3 488.0 L525.8 486.2 L531.3 493.0 L536.8 500.0 L542.2 486.2 L547.7 497.5 L553.2 497.5 L558.7 487.5 L564.1 487.5 L569.6 488.8 L575.1 495.0 L580.6 496.8 L586.1 507.5 L591.5 503.8 L597.0 508.8 L602.5 522.5 L608.0 533.8 L613.4 523.0 L618.9 524.2 L624.4 540.0 L629.9 550.0 L635.3 535.0 L640.8 517.0 L646.3 518.0 L651.8 515.0 L657.3 518.8 L662.7 524.5 L668.2 518.0 L673.7 526.2 L679.2 526.2 L684.6 519.2 L690.1 517.5 L695.6 514.5 L701.1 502.0 L706.5 500.0 L712.0 490.8 L717.5 493.8 L723.0 505.5 L728.5 518.8 L733.9 523.8 L739.4 525.5 L744.9 527.5 L750.4 531.2 L755.8 485.0 L761.3 477.0 L766.8 462.5 L772.3 449.5 L777.7 457.0 L783.2 485.0 L788.7 492.5 L794.2 492.0 L799.7 503.0 L805.1 508.0 L810.6 485.0 L816.1 484.5 L821.6 477.0 L827.0 472.0" fill="none" stroke="#2d9fe0" stroke-width="1.9" stroke-linejoin="round"/>
<line x1="8" y1="453.3" x2="830" y2="453.3" stroke="#ef5350" stroke-width="1.6" stroke-dasharray="3.5 2.2225" stroke-dashoffset="-0.29"/>
<line x1="8" y1="502.2" x2="830" y2="502.2" stroke="#787b86" stroke-width="1.6" stroke-dasharray="3.5 2.2225" stroke-dashoffset="-0.29"/>
<line x1="8" y1="550.8" x2="830" y2="550.8" stroke="#26a69a" stroke-width="1.6" stroke-dasharray="3.5 2.2225" stroke-dashoffset="-0.29"/>
</g>
<path d="M782.00 73.80 h47.00 v11.80 h-47.00 q-1.5 0 -1.5 -1.5 v-8.80 q0 -1.5 1.5 -1.5 z" fill="#f44336"/>
<text x="784.7" y="82.7" font-family="Liberation Sans, sans-serif" font-size="9.8" font-weight="normal" fill="#fff" stroke="#fff" stroke-width="0.35" textLength="39.7" lengthAdjust="spacingAndGlyphs">Resistance</text>
<path d="M830 73.8 h26.5 q2 0 2 2 v7.8 q0 2 -2 2 h-26.5 z" fill="#f44336"/>
<rect x="830" y="79.2" width="3.4" height="1" fill="#fff" opacity="0.9"/>
<text x="837.0" y="82.7" font-family="Liberation Sans, sans-serif" font-size="9.8" font-weight="normal" fill="#fff" stroke="#fff" stroke-width="0.35" textLength="16.3" lengthAdjust="spacingAndGlyphs">0.29</text>
<path d="M793.10 341.50 h35.90 v11.90 h-35.90 q-1.5 0 -1.5 -1.5 v-8.90 q0 -1.5 1.5 -1.5 z" fill="#9c27b0"/>
<text x="795.8" y="350.5" font-family="Liberation Sans, sans-serif" font-size="9.8" font-weight="normal" fill="#fff" stroke="#fff" stroke-width="0.35" textLength="29.0" lengthAdjust="spacingAndGlyphs">Support</text>
<path d="M830 341.5 h26.5 q2 0 2 2 v7.9 q0 2 -2 2 h-26.5 z" fill="#9c27b0"/>
<rect x="830" y="346.9" width="3.4" height="1" fill="#fff" opacity="0.9"/>
<text x="837.0" y="350.5" font-family="Liberation Sans, sans-serif" font-size="9.8" font-weight="normal" fill="#fff" stroke="#fff" stroke-width="0.35" textLength="16.3" lengthAdjust="spacingAndGlyphs">0.27</text>
<path d="M786.20 197.00 h42.80 v12.00 h-42.80 q-1.5 0 -1.5 -1.5 v-9.00 q0 -1.5 1.5 -1.5 z" fill="#e91e63"/>
<text x="788.9" y="206.1" font-family="Liberation Sans, sans-serif" font-size="9.8" font-weight="normal" fill="#fff" stroke="#fff" stroke-width="0.35" textLength="35.7" lengthAdjust="spacingAndGlyphs">Fibonacci</text>
<path d="M830 197.0 h26.5 q2 0 2 2 v8.0 q0 2 -2 2 h-26.5 z" fill="#e91e63"/>
<rect x="830" y="202.5" width="3.4" height="1" fill="#fff" opacity="0.9"/>
<text x="837.0" y="206.1" font-family="Liberation Sans, sans-serif" font-size="9.8" font-weight="normal" fill="#fff" stroke="#fff" stroke-width="0.35" textLength="16.3" lengthAdjust="spacingAndGlyphs">0.28</text>
<path d="M830 140 h26 q2 0 2 2 v8 q0 2 -2 2 h-26 z" fill="#26a69a"/>
<rect x="830" y="146" width="3.4" height="1" fill="#fff" opacity="0.9"/>
<text x="837.0" y="149.5" font-family="Liberation Sans, sans-serif" font-size="9.8" font-weight="normal" fill="#fff" stroke="#fff" stroke-width="0.35" textLength="16.3" lengthAdjust="spacingAndGlyphs">0.29</text>
<path d="M784.70 447.40 h44.30 v12.50 h-44.30 q-1.5 0 -1.5 -1.5 v-9.50 q0 -1.5 1.5 -1.5 z" fill="#ef5350"/>
<text x="787.4" y="457.0" font-family="Liberation Sans, sans-serif" font-size="9.8" font-weight="normal" fill="#fff" stroke="#fff" stroke-width="0.35" textLength="38.0" lengthAdjust="spacingAndGlyphs">Überkauft</text>
<path d="M830 447.4 h19.0 q2 0 2 2 v8.5 q0 2 -2 2 h-19.0 z" fill="#ef5350"/>
<rect x="830" y="453.1" width="3.4" height="1" fill="#fff" opacity="0.9"/>
<text x="837.0" y="457.0" font-family="Liberation Sans, sans-serif" font-size="9.8" font-weight="normal" fill="#fff" stroke="#fff" stroke-width="0.35" textLength="8.6" lengthAdjust="spacingAndGlyphs">70</text>
<path d="M813.70 496.50 h15.30 v12.20 h-15.30 q-1.5 0 -1.5 -1.5 v-9.20 q0 -1.5 1.5 -1.5 z" fill="#787b86"/>
<text x="816.4" y="505.8" font-family="Liberation Sans, sans-serif" font-size="9.8" font-weight="normal" fill="#fff" stroke="#fff" stroke-width="0.35" textLength="8.6" lengthAdjust="spacingAndGlyphs">50</text>
<path d="M830 496.5 h19.0 q2 0 2 2 v8.2 q0 2 -2 2 h-19.0 z" fill="#787b86"/>
<rect x="830" y="502.1" width="3.4" height="1" fill="#fff" opacity="0.9"/>
<text x="837.0" y="505.8" font-family="Liberation Sans, sans-serif" font-size="9.8" font-weight="normal" fill="#fff" stroke="#fff" stroke-width="0.35" textLength="8.6" lengthAdjust="spacingAndGlyphs">50</text>
<path d="M772.10 545.30 h56.90 v12.40 h-56.90 q-1.5 0 -1.5 -1.5 v-9.40 q0 -1.5 1.5 -1.5 z" fill="#26a69a"/>
<text x="774.8" y="554.8" font-family="Liberation Sans, sans-serif" font-size="9.8" font-weight="normal" fill="#fff" stroke="#fff" stroke-width="0.35" textLength="50.2" lengthAdjust="spacingAndGlyphs">Überverkauft</text>
<path d="M830 545.3 h19.0 q2 0 2 2 v8.4 q0 2 -2 2 h-19.0 z" fill="#26a69a"/>
<rect x="830" y="551.0" width="3.4" height="1" fill="#fff" opacity="0.9"/>
<text x="837.0" y="554.8" font-family="Liberation Sans, sans-serif" font-size="9.8" font-weight="normal" fill="#fff" stroke="#fff" stroke-width="0.35" textLength="8.6" lengthAdjust="spacingAndGlyphs">30</text>
<rect x="830" y="97.0" width="3.5" height="1" fill="#e6e8ea"/>
<text x="837.0" y="101.0" font-family="Liberation Sans, sans-serif" font-size="10.1" font-weight="normal" fill="#4c505b" stroke="#4c505b" stroke-width="0.30" textLength="16.3" lengthAdjust="spacingAndGlyphs">0.29</text>
<rect x="830" y="252.5" width="3.5" height="1" fill="#e6e8ea"/>
<text x="837.0" y="255.7" font-family="Liberation Sans, sans-serif" font-size="10.1" font-weight="normal" fill="#4c505b" stroke="#4c505b" stroke-width="0.30" textLength="16.6" lengthAdjust="spacingAndGlyphs">0.28</text>
<rect x="830" y="407.5" width="3.5" height="1" fill="#e6e8ea"/>
<text x="837.0" y="410.8" font-family="Liberation Sans, sans-serif" font-size="10.1" font-weight="normal" fill="#4c505b" stroke="#4c505b" stroke-width="0.30" textLength="16.3" lengthAdjust="spacingAndGlyphs">0.27</text>
<rect x="830" y="477.5" width="3.5" height="1" fill="#e6e8ea"/>
<text x="837.0" y="481.1" font-family="Liberation Sans, sans-serif" font-size="10.1" font-weight="normal" fill="#4c505b" stroke="#4c505b" stroke-width="0.30" textLength="9.0" lengthAdjust="spacingAndGlyphs">60</text>
<rect x="830" y="526.5" width="3.5" height="1" fill="#e6e8ea"/>
<text x="837.0" y="530.1" font-family="Liberation Sans, sans-serif" font-size="10.1" font-weight="normal" fill="#4c505b" stroke="#4c505b" stroke-width="0.30" textLength="9.0" lengthAdjust="spacingAndGlyphs">40</text>
<text x="9.5" y="577.2" font-family="Liberation Sans, sans-serif" font-size="9.2" font-weight="normal" fill="#4a4e5a" stroke="#4a4e5a" stroke-width="0.30" textLength="50.5" lengthAdjust="spacingAndGlyphs">10.02., 01:00</text>
<text x="67.8" y="577.2" font-family="Liberation Sans, sans-serif" font-size="9.2" font-weight="normal" fill="#4a4e5a" stroke="#4a4e5a" stroke-width="0.30" textLength="50.5" lengthAdjust="spacingAndGlyphs">12.02., 01:00</text>
<text x="133.5" y="577.2" font-family="Liberation Sans, sans-serif" font-size="9.2" font-weight="normal" fill="#4a4e5a" stroke="#4a4e5a" stroke-width="0.30" textLength="50.5" lengthAdjust="spacingAndGlyphs">14.02., 01:00</text>
<text x="199.3" y="577.2" font-family="Liberation Sans, sans-serif" font-size="9.2" font-weight="normal" fill="#4a4e5a" stroke="#4a4e5a" stroke-width="0.30" textLength="50.5" lengthAdjust="spacingAndGlyphs">16.02., 01:00</text>
<text x="265.0" y="577.2" font-family="Liberation Sans, sans-serif" font-size="9.2" font-weight="normal" fill="#4a4e5a" stroke="#4a4e5a" stroke-width="0.30" textLength="50.5" lengthAdjust="spacingAndGlyphs">18.02., 01:00</text>
<text x="330.7" y="577.2" font-family="Liberation Sans, sans-serif" font-size="9.2" font-weight="normal" fill="#4a4e5a" stroke="#4a4e5a" stroke-width="0.30" textLength="50.5" lengthAdjust="spacingAndGlyphs">20.02., 01:00</text>
<text x="396.4" y="577.2" font-family="Liberation Sans, sans-serif" font-size="9.2" font-weight="normal" fill="#4a4e5a" stroke="#4a4e5a" stroke-width="0.30" textLength="50.5" lengthAdjust="spacingAndGlyphs">22.02., 01:00</text>
<text x="462.2" y="577.2" font-family="Liberation Sans, sans-serif" font-size="9.2" font-weight="normal" fill="#4a4e5a" stroke="#4a4e5a" stroke-width="0.30" textLength="50.5" lengthAdjust="spacingAndGlyphs">24.02., 01:00</text>
<text x="527.9" y="577.2" font-family="Liberation Sans, sans-serif" font-size="9.2" font-weight="normal" fill="#4a4e5a" stroke="#4a4e5a" stroke-width="0.30" textLength="50.5" lengthAdjust="spacingAndGlyphs">26.02., 01:00</text>
<text x="623.3" y="577.2" font-family="Liberation Sans, sans-serif" font-size="9.2" font-weight="bold" fill="#2a2e39" stroke="#2a2e39" stroke-width="0.10" textLength="56.0" lengthAdjust="spacingAndGlyphs">01.03., 01:00</text>
<text x="692.2" y="577.2" font-family="Liberation Sans, sans-serif" font-size="9.2" font-weight="normal" fill="#4a4e5a" stroke="#4a4e5a" stroke-width="0.30" textLength="50.5" lengthAdjust="spacingAndGlyphs">03.03., 01:00</text>
<text x="757.9" y="577.2" font-family="Liberation Sans, sans-serif" font-size="9.2" font-weight="normal" fill="#4a4e5a" stroke="#4a4e5a" stroke-width="0.30" textLength="50.5" lengthAdjust="spacingAndGlyphs">05.03., 01:00</text>
<rect x="19.6" y="597.5" width="6.3" height="12.3" rx="3.1" fill="#26a69a"/>
<rect x="28" y="597.5" width="6.3" height="12.3" rx="3.1" fill="#ef5350"/>
<text x="40.0" y="607.8" font-family="Liberation Sans, sans-serif" font-size="11" font-weight="normal" fill="#4a4d5c" textLength="54.7" lengthAdjust="spacingAndGlyphs">Candlesticks</text>
<line x1="111.8" y1="603.4" x2="134.6" y2="603.4" stroke="#3e6ff5" stroke-width="1.3" stroke-linecap="round"/>
<text x="140.3" y="607.8" font-family="Liberation Sans, sans-serif" font-size="11" font-weight="normal" fill="#4a4d5c" textLength="37.1" lengthAdjust="spacingAndGlyphs">EMA(20)</text>
<line x1="194.8" y1="603.4" x2="217.1" y2="603.4" stroke="#ffa42e" stroke-width="1.3" stroke-dasharray="1.3 1"/>
<text x="223.5" y="607.8" font-family="Liberation Sans, sans-serif" font-size="11" font-weight="normal" fill="#4a4d5c" textLength="68.5" lengthAdjust="spacingAndGlyphs">Bollinger Bands</text>
<line x1="308.8" y1="603.4" x2="332.3" y2="603.4" stroke="#ef6a93" stroke-width="1.2" stroke-dasharray="1.2 1"/>
<text x="337.8" y="607.8" font-family="Liberation Sans, sans-serif" font-size="11" font-weight="normal" fill="#4a4d5c" textLength="41.6" lengthAdjust="spacingAndGlyphs">Fibonacci</text>
<line x1="397.5" y1="603.4" x2="418.4" y2="603.4" stroke="#2d9fe0" stroke-width="1.3" stroke-linecap="round"/>
<text x="424.7" y="607.8" font-family="Liberation Sans, sans-serif" font-size="11" font-weight="normal" fill="#4a4d5c" textLength="30.8" lengthAdjust="spacingAndGlyphs">RSI(14)</text>
<line x1="473.8" y1="603.6" x2="494.6" y2="603.6" stroke="#9c27b0" stroke-width="1.7" stroke-linecap="round"/>
<text x="501.6" y="607.8" font-family="Liberation Sans, sans-serif" font-size="11" font-weight="normal" fill="#4a4d5c" textLength="35.3" lengthAdjust="spacingAndGlyphs">Support</text>
<line x1="554.3" y1="603.6" x2="576.1" y2="603.6" stroke="#f44336" stroke-width="1.7" stroke-linecap="round"/>
<text x="583.0" y="607.8" font-family="Liberation Sans, sans-serif" font-size="11" font-weight="normal" fill="#4a4d5c" textLength="45.3" lengthAdjust="spacingAndGlyphs">Resistance</text>
</svg>
</body></html>
